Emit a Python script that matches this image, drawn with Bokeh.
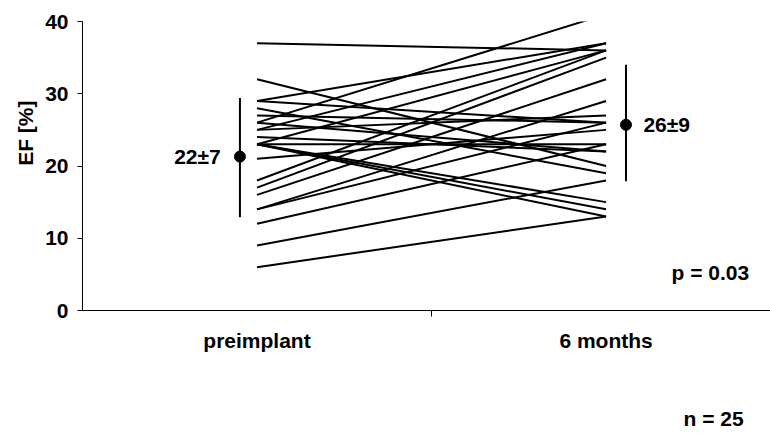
import math
from bokeh.plotting import figure
from bokeh.models import Range1d, FixedTicker, Label, Title, LinearAxis
from bokeh.embed import file_html
from bokeh.resources import INLINE

# ---- data ----
categories = ["preimplant", "6 months"]
ef_preimplant = [37, 32, 29, 29, 28, 27, 26, 26, 25, 25, 24, 23, 23, 23, 23, 23, 21, 18, 17, 16, 14, 14, 12, 9, 6]
ef_6months = [36, 20, 26, 37, 19, 26, 41, 22, 37, 27, 22, 36, 13, 14, 23, 15, 25, 36, 35, 32, 29, 26, 23, 18, 13]
mean_ef = [21.3, 25.7]
bar_low = [12.9, 17.9]
bar_high = [29.4, 34.0]
mean_labels = ["22±7", "26±9"]
y_ticks = [0, 10, 20, 30, 40]
y_label = "EF [%]"
p_text = "p = 0.03"
n_text = "n = 25"

# ---- layout constants ----
FONT = "Liberation Sans"
FS = "21px"
cat_x = [1, 2]
MEAN_SHIFT = [-0.049, 0.057]
N_X = 2.308

p = figure(width=770, height=435,
           x_range=Range1d(0.5, 2.471), y_range=Range1d(0, 40),
           output_backend="svg", toolbar_location=None,
           min_border_left=82, min_border_right=0,
           min_border_top=21, min_border_bottom=125)
p.outline_line_color = None
p.grid.visible = False
p.background_fill_color = "white"
p.border_fill_color = "white"

# individual patient lines
xs = [cat_x for _ in ef_preimplant]
ys = [[a, b] for a, b in zip(ef_preimplant, ef_6months)]
p.multi_line(xs, ys, line_color="black", line_width=2)

# mean +/- bars
mx = [c + s for c, s in zip(cat_x, MEAN_SHIFT)]
p.segment(x0=mx, y0=bar_low, x1=mx, y1=bar_high, line_color="black", line_width=2)
p.scatter(mx, mean_ef, size=11, color="black")

# mean labels
p.add_layout(Label(x=mx[0] - 0.055, y=mean_ef[0], text=mean_labels[0], text_align="right",
                   text_baseline="middle", text_font=FONT, text_font_style="bold",
                   text_font_size=FS, text_color="black"))
p.add_layout(Label(x=mx[1] + 0.05, y=mean_ef[1], text=mean_labels[1], text_align="left",
                   text_baseline="middle", text_font=FONT, text_font_style="bold",
                   text_font_size=FS, text_color="black"))

# p value text
p.add_layout(Label(x=2.41, y=5.3, text=p_text, text_align="right", text_baseline="middle",
                   text_font=FONT, text_font_style="bold", text_font_size=FS, text_color="black"))

# x axis
xa = p.xaxis[0]
xa.ticker = FixedTicker(ticks=cat_x, minor_ticks=[1.5])
xa.major_label_overrides = {1: categories[0], 2: categories[1]}
xa.major_tick_line_color = None
xa.major_tick_out = 0
xa.major_tick_in = 0
xa.minor_tick_out = 6
xa.minor_tick_in = 0
xa.minor_tick_line_color = "black"
xa.axis_line_color = "black"
xa.major_label_standoff = 12
xa.major_label_text_font = FONT
xa.major_label_text_font_style = "bold"
xa.major_label_text_font_size = FS
xa.major_label_text_color = "black"

# "n = 25" as a label-only axis below
n_axis = LinearAxis(ticker=FixedTicker(ticks=[N_X], minor_ticks=[]),
                    major_label_overrides={N_X: n_text},
                    axis_line_color=None, major_tick_line_color=None,
                    minor_tick_line_color=None, major_tick_out=0, major_tick_in=0,
                    minor_tick_out=0, minor_tick_in=0,
                    major_label_standoff=52,
                    major_label_text_font=FONT, major_label_text_font_style="bold",
                    major_label_text_font_size=FS, major_label_text_color="black")
p.add_layout(n_axis, "below")

# y axis
ya = p.yaxis[0]
ya.ticker = FixedTicker(ticks=y_ticks)
ya.major_tick_out = 5
ya.major_tick_in = 0
ya.minor_tick_line_color = None
ya.major_tick_line_color = "black"
ya.axis_line_color = "black"
ya.major_label_standoff = 9
ya.major_label_text_font = FONT
ya.major_label_text_font_style = "bold"
ya.major_label_text_font_size = FS
ya.major_label_text_color = "black"

# y axis title, placed higher than centre like the original
p.add_layout(Title(text=y_label, align="right", offset=79, standoff=8,
                   vertical_align="top",
                   text_font=FONT, text_font_style="bold", text_font_size=FS,
                   text_color="black"), "left")

open("out.html", "w").write(file_html(p, INLINE))
